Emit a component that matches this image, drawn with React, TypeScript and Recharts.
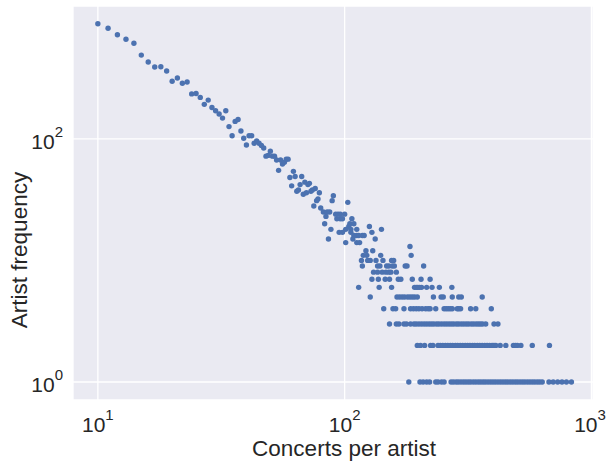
import { ScatterChart, Scatter, XAxis, YAxis, CartesianGrid, Label } from 'recharts';

// concerts per artist (x) vs number of artists with that count (y)
const headConcerts = [
  10, 11, 12, 13, 14, 15, 16, 17, 18, 19, 20, 21, 22, 23, 24, 25, 26, 27, 28, 29,
  30, 31, 32, 33, 34, 35, 36, 37, 38, 39, 40, 41, 42, 43, 44, 45, 46, 47, 48, 49,
  50, 51, 52, 53, 54, 55, 56, 57, 58, 59, 60, 61, 62, 63, 64, 65, 66, 67, 68, 69,
  70, 71, 72, 73, 74, 75, 76, 77, 78, 79, 80, 82, 83, 84, 85, 86, 87, 88, 89, 90,
];
const headFrequency = [
  884, 811, 718, 658, 610, 488, 428, 389, 391, 361, 297, 316, 286, 293, 234, 236, 219, 192, 208, 181,
  170, 160, 148, 170, 126, 106, 139, 144, 116, 101, 89, 106, 106, 92, 96, 92, 88, 84, 72, 73,
  79, 72, 72, 67, 55, 67, 62, 64, 68, 68, 48, 41, 54, 49, 37, 38, 42, 49, 35, 44,
  36, 42, 43, 37, 38, 28, 39, 31, 32, 36, 27, 25, 20, 23, 25, 15, 25, 18, 31, 34,
];

const midConcerts = [
  92, 94, 96, 100, 93, 96, 98, 107, 103, 105, 109, 104, 126, 101, 106, 112, 141,
  95, 98, 106, 129, 109, 112, 114, 118, 120, 108, 133, 101, 112, 115, 184, 122, 130,
  119, 123, 140, 186,
];
const midFrequency = [
  24, 24, 24, 24, 22, 22, 22, 22, 30, 20, 20, 19, 19, 18, 18, 18, 18,
  17, 17, 17, 17, 16, 16, 16, 16, 16, 15, 15, 14, 14, 14, 13, 12, 12,
  11, 11, 11, 11,
];

const row10 = [117, 124, 127, 134, 143, 155, 158];
const row9 = [118, 136, 139, 148, 151, 156, 159, 176, 179, 209];
const row8 = [131, 136, 142, 147, 151, 154, 162];
const row7 = [129, 137, 146, 152, 165, 169, 188, 204, 222];
const row6 = [114, 138, 155, 192, 195, 198, 201, 205, 215, 226, 242, 272];
const row5 = [127, 163, 167, 171, 175, 180, 184, 188, 192, 197, 229, 246, 251, 273, 290, 297, 361];
const row4 = [
  144, 157, 161, 174, 185, 190, 195, 200, 206, 213, 218, 222, 234, 253, 258, 263, 268, 273,
  286, 290, 295, 324, 340, 393,
];
const row3 = [
  152, 162, 166, 174, 178, 185, 191, 195, 200, 205, 210, 215, 220, 225, 230, 236, 241, 247,
  253, 259, 265, 271, 277, 284, 290, 297, 304, 311, 318, 326, 333, 341, 348, 355, 362, 373,
  403, 418,
];
const row2 = [
  197, 203, 211, 223, 228, 239, 244, 250, 256, 262, 268, 274, 281, 287, 294, 301, 308, 315,
  322, 330, 337, 345, 353, 361, 370, 378, 387, 396, 403, 410, 427, 450, 483, 492, 501, 518,
  576, 676,
];
const row1 = [
  182, 202, 208, 215, 221, 234, 239, 247, 253, 270, 276, 283, 289, 296, 303, 310, 317, 324,
  332, 340, 348, 356, 364, 372, 381, 390, 399, 408, 418, 428, 438, 448, 458, 469, 480, 491,
  502, 514, 526, 538, 551, 564, 577, 590, 604, 618, 632, 673, 700, 730, 760, 792, 830,
];

const rows: [number, number[]][] = [
  [1, row1], [2, row2], [3, row3], [4, row4], [5, row5],
  [6, row6], [7, row7], [8, row8], [9, row9], [10, row10],
];

const xTicks = [10, 100, 1000];
const yTicks = [1, 100];

const points = [
  ...headConcerts.map((x, i) => ({ x, y: headFrequency[i] })),
  ...midConcerts.map((x, i) => ({ x, y: midFrequency[i] })),
  ...rows.flatMap(([y, xs]) => xs.map((x) => ({ x, y }))),
];

const FONT = '"Liberation Sans", Arial, sans-serif';
const TEXT = '#262626';

const XTick = ({ x, y, payload }: any) => (
  <text x={x} y={y + 32} textAnchor="middle" fill={TEXT} fontSize={21} fontFamily={FONT}>
    <tspan>10</tspan>
    <tspan dy={-12} fontSize={15}>{Math.round(Math.log10(payload.value))}</tspan>
  </text>
);

const YTick = ({ x, y, payload }: any) => (
  <text x={x - 10} y={y + 10} textAnchor="end" fill={TEXT} fontSize={21} fontFamily={FONT}>
    <tspan>10</tspan>
    <tspan dy={-12} fontSize={15}>{Math.round(Math.log10(payload.value))}</tspan>
  </text>
);

const Dot = ({ cx, cy }: any) => <circle cx={cx} cy={cy} r={2.7} fill="#4C72B0" />;

export default function App() {
  return (
    <div style={{ position: 'absolute', left: 0, top: 0, background: '#fff' }}>
      <ScatterChart width={606} height={462} margin={{ top: 6, right: 13, bottom: 0, left: 0 }}>
        <CartesianGrid fill="#EAEAF2" stroke="#ffffff" strokeWidth={1.3} />
        <XAxis
          dataKey="x"
          type="number"
          scale="log"
          domain={[7.93, 1015]}
          allowDataOverflow
          ticks={xTicks}
          height={62}
          axisLine={false}
          tickLine={false}
          tickSize={0}
          tickMargin={0}
          tick={<XTick />}
        >
          <Label
            content={({ viewBox }: any) => (
              <text
                x={viewBox.x + viewBox.width / 2 + 11}
                y={viewBox.y + 56}
                textAnchor="middle"
                fill={TEXT}
                fontSize={22.5}
                fontFamily={FONT}
              >
                Concerts per artist
              </text>
            )}
          />
        </XAxis>
        <YAxis
          dataKey="y"
          type="number"
          scale="log"
          domain={[0.711, 1236]}
          allowDataOverflow
          ticks={yTicks}
          width={73}
          axisLine={false}
          tickLine={false}
          tickSize={0}
          tickMargin={0}
          tick={<YTick />}
        >
          <Label
            content={({ viewBox }: any) => {
              const cx = 27;
              const cy = viewBox.y + viewBox.height / 2 + 47;
              return (
                <text
                  x={cx}
                  y={cy}
                  transform={`rotate(-90, ${cx}, ${cy})`}
                  textAnchor="middle"
                  fill={TEXT}
                  fontSize={22.5}
                  fontFamily={FONT}
                >
                  Artist frequency
                </text>
              );
            }}
          />
        </YAxis>
        <Scatter data={points} isAnimationActive={false} shape={<Dot />} />
      </ScatterChart>
    </div>
  );
}
